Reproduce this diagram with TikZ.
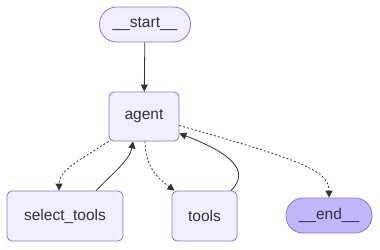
\documentclass[tikz,border=0pt]{standalone}
\usepackage{fontspec}
\setmainfont{Liberation Sans}
\usetikzlibrary{arrows.meta}
\definecolor{nodefill}{HTML}{F0EEFF}
\definecolor{nodeline}{HTML}{9370DB}
\definecolor{endfill}{HTML}{BFB6FC}
\definecolor{edgecol}{HTML}{333333}
\begin{document}
\begin{tikzpicture}[x=1pt,y=-1pt,font=\fontsize{15.5}{18}\selectfont,line join=round,>={Triangle[length=7pt,width=7pt]},
	box/.style={draw=nodeline,fill=nodefill,line width=0.8pt,rounded corners=5pt,text=edgecol,inner sep=0pt},
	pill/.style={box,rounded corners=17pt},
	edge/.style={draw=edgecol,line width=0.8pt,->},
	cond/.style={edge,dash pattern=on 2pt off 2pt}]
				\useasboundingbox (0,0) rectangle (380,249);
				
				\node[pill,minimum width=91pt,minimum height=35pt] (start) at (145,24.5) {\_\_start\_\_};
				\node[box,minimum width=70pt,minimum height=49pt] (agent) at (144,116.5) {agent};
				\node[box,minimum width=116pt,minimum height=50pt] (selecttools) at (65,216) {select\_tools};
				\node[box,minimum width=65pt,minimum height=50pt] (tools) at (204.5,216) {tools};
				\node[pill,fill=endfill,minimum width=86pt,minimum height=35pt] (end) at (329,215.5) {\_\_end\_\_};
				
				\draw[edge] (start) -- (agent);
				
				\draw[cond] (agent.south west) .. controls (80,160) and (59,170) .. ([xshift=-6pt]selecttools.north);
				\draw[edge] ([xshift=31pt]selecttools.north) .. controls (110,176) and (130,160) .. ([xshift=-11pt]agent.south);
				
				\draw[cond] ([xshift=1pt]agent.south) .. controls (145,168) and (160,180) .. ([xshift=-30pt]tools.north);
				\draw[edge] ([xshift=26.5pt]tools.north) .. controls (252,170) and (228,152) .. ([yshift=-17pt]agent.east);
				
				\draw[cond] ([yshift=-9pt]agent.east) .. controls (300,160) and (329,170) .. (end.north);
			\end{tikzpicture}
\end{document}
